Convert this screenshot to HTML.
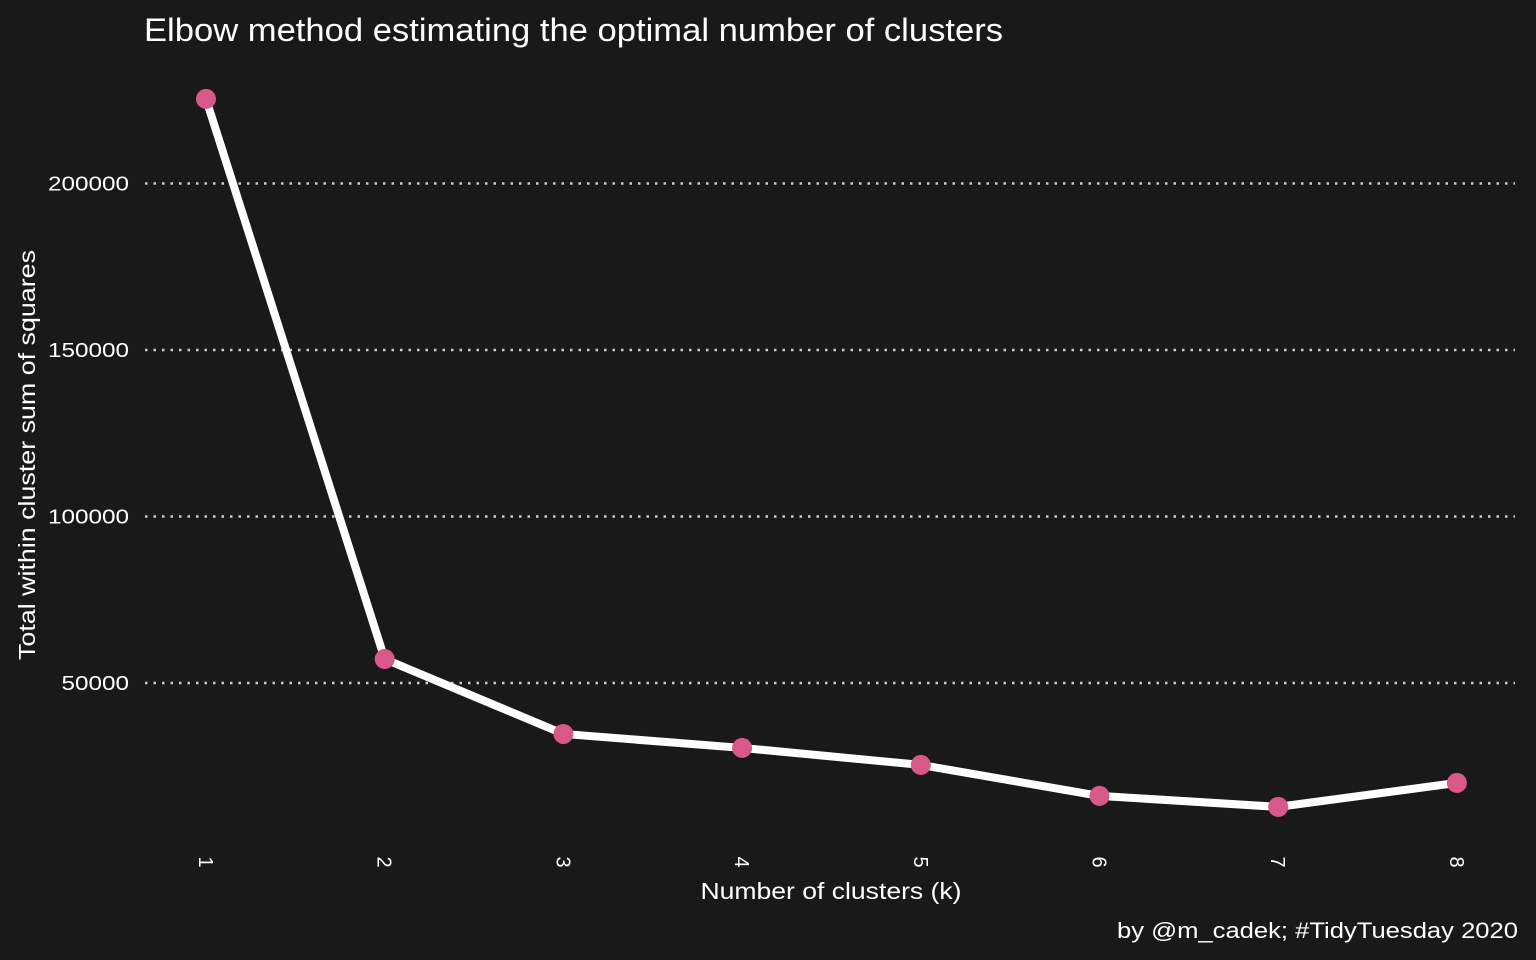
<!DOCTYPE html>
<html><head><meta charset="utf-8"><style>
body{margin:0;background:#191919;}
svg{display:block;font-family:"Liberation Sans",sans-serif;}
</style></head><body>
<svg id="chart" width="1536" height="960">
<rect width="1536" height="960" fill="#191919"/>
<text x="144" y="41" fill="#ffffff" font-size="32" textLength="859" lengthAdjust="spacingAndGlyphs">Elbow method estimating the optimal number of clusters</text>
<text transform="translate(35,455) rotate(-90)" fill="#ffffff" font-size="23" text-anchor="middle" textLength="410" lengthAdjust="spacingAndGlyphs">Total within cluster sum of squares</text>
<text x="831" y="899" fill="#ffffff" font-size="23" text-anchor="middle" textLength="261" lengthAdjust="spacingAndGlyphs">Number of clusters (k)</text>
<text x="1518" y="938" fill="#ffffff" font-size="22" text-anchor="end" textLength="401" lengthAdjust="spacingAndGlyphs">by @m_cadek; #TidyTuesday 2020</text>
<g id="grid"></g><g id="marks"></g>
</svg>
<script>
const categories = [1,2,3,4,5,6,7,8];
const wss = [225400,57200,34700,30500,25400,16100,12800,20000];
const yTicks = [50000,100000,150000,200000];
const yTickLabels = ["50000","100000","150000","200000"];
const NS="http://www.w3.org/2000/svg";
const x = k => 206 + (k-1)*178.7;
const y = v => 683 - (v-50000)*166.5/50000;
const grid=document.getElementById('grid'), marks=document.getElementById('marks');
function mk(tag,attrs,parent){const e=document.createElementNS(NS,tag);for(const a in attrs)e.setAttribute(a,attrs[a]);parent.appendChild(e);return e;}
yTicks.forEach((t,i)=>{
  const l=mk('line',{x1:145,x2:1515,y1:y(t),y2:y(t),stroke:'#cccccc','stroke-width':2.5,'stroke-dasharray':'2.5 6'},grid);
  
  
  const tx=mk('text',{x:129,y:y(t)+7,fill:'#ffffff','font-size':20,'text-anchor':'end',textLength:yTickLabels[i].length*13.5,lengthAdjust:'spacingAndGlyphs'},grid);
  tx.textContent=yTickLabels[i];
  
  
});
categories.forEach(k=>{
  const tx=mk('text',{transform:`translate(${x(k)-7},862) rotate(90)`,fill:'#ffffff','font-size':20,'text-anchor':'middle'},grid);
  tx.textContent=k;
  
  
});
const pl=mk('polyline',{points:categories.map((k,i)=>x(k)+','+y(wss[i])).join(' '),fill:'none',stroke:'#ffffff','stroke-width':8,'stroke-linejoin':'round'},marks);


categories.forEach((k,i)=>{
  const c=mk('circle',{cx:x(k),cy:y(wss[i]),r:10,fill:'#d9588a'},marks);
  
  
});
</script>
</body></html>
